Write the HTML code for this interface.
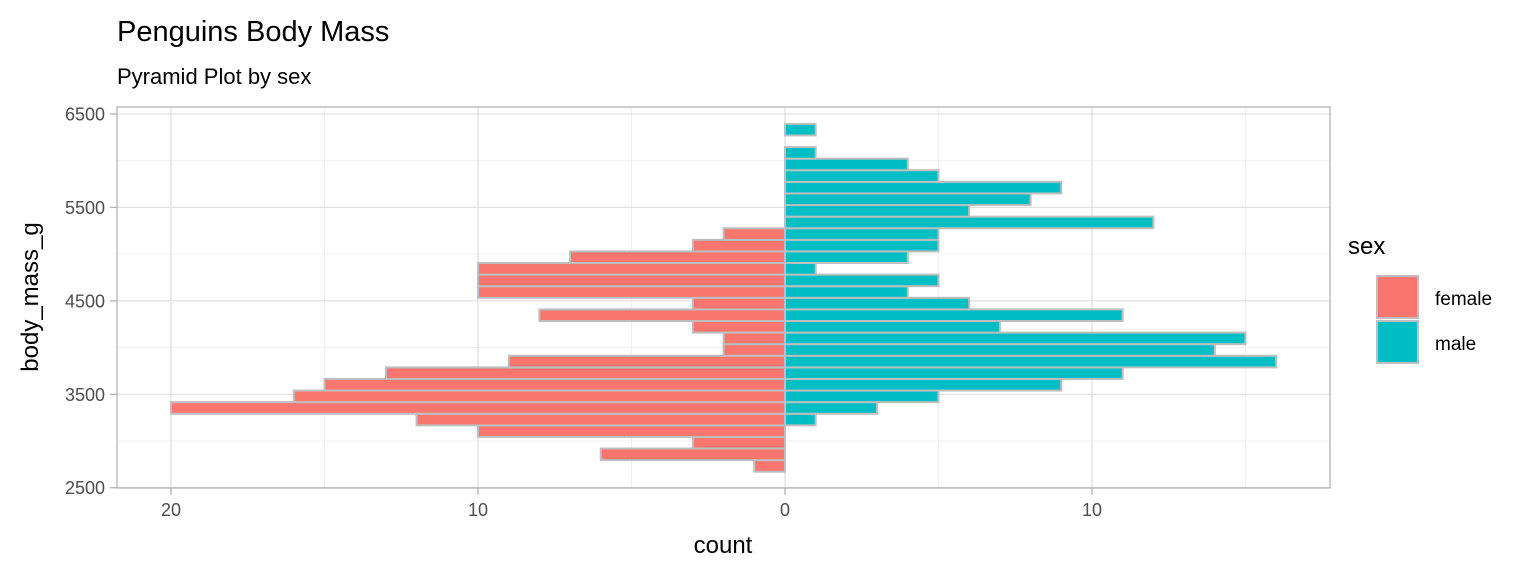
<!DOCTYPE html>
<html><head><meta charset="utf-8"><style>
body{margin:0;background:#fff}
svg{display:block;font-family:"Liberation Sans",sans-serif}
</style></head><body>
<svg id="c" width="1536" height="576">
<text x="117" y="41" font-size="29" fill="#000">Penguins Body Mass</text>
<text x="117" y="84" font-size="22" fill="#000">Pyramid Plot by sex</text>
<rect x="117" y="107" width="1213" height="381" fill="#fff"/>
<g id="grid"></g>
<g id="bars"></g>
<rect x="117" y="107" width="1213" height="381" fill="none" stroke="#b3b3b3" stroke-width="1.3"/>
<g id="ticks"></g>
<text x="723" y="553" font-size="24" text-anchor="middle">count</text>
<text transform="translate(38,297) rotate(-90)" font-size="24" text-anchor="middle">body_mass_g</text>
<g>
<text x="1348" y="254" font-size="24">sex</text>
<rect x="1377" y="276" width="41" height="42" fill="#f8766d" stroke="#bebebe" stroke-width="2"/>
<text x="1435" y="305" font-size="19">female</text>
<rect x="1377" y="321" width="41" height="42" fill="#00bfc4" stroke="#bebebe" stroke-width="2"/>
<text x="1435" y="350" font-size="19">male</text>
</g>
</svg>
<script>
const binStart = 2671;
const binWidth = 124.1;
const female = [1,6,3,10,12,20,16,15,13,9,2,2,3,8,3,10,10,10,7,3,2];
const male = [0,0,0,0,1,3,5,9,11,16,14,15,7,11,6,4,5,1,4,5,5,12,6,8,9,5,4,1,0,1];
const yTicks = [2500,3500,4500,5500,6500];
const yMinor = [3000,4000,5000,6000];
const xTicks = [-20,-10,0,10];
const xTickLabels = ["20","10","0","10"];
const xMinor = [-15,-5,5,15];

const NS="http://www.w3.org/2000/svg";
const y = v => 487.7 - (v-2500)*0.09343;
const x = v => 785 + v*30.7;
function mk(tag, attrs, parent){const e=document.createElementNS(NS,tag);for(const k in attrs)e.setAttribute(k,attrs[k]);document.getElementById(parent).appendChild(e);return e;}
yMinor.forEach(v=>{const e=mk('line',{x1:117,x2:1330,y1:y(v),y2:y(v),stroke:'#f0f0f0','stroke-width':1},'grid');

});
xMinor.forEach(v=>{const e=mk('line',{x1:x(v),x2:x(v),y1:107,y2:488,stroke:'#f0f0f0','stroke-width':1},'grid');

});
yTicks.forEach(v=>{const e=mk('line',{x1:117,x2:1330,y1:y(v),y2:y(v),stroke:'#e0e0e0','stroke-width':1.3},'grid');


const t=mk('line',{x1:110,x2:117,y1:y(v),y2:y(v),stroke:'#b3b3b3','stroke-width':1.3},'ticks');


const l=mk('text',{x:105,y:y(v)+6.5,'font-size':18,fill:'#4d4d4d','text-anchor':'end'},'ticks');
l.textContent=v;

});
xTicks.forEach((v,i)=>{const e=mk('line',{x1:x(v),x2:x(v),y1:107,y2:488,stroke:'#e0e0e0','stroke-width':1.3},'grid');


const t=mk('line',{x1:x(v),x2:x(v),y1:488,y2:495,stroke:'#b3b3b3','stroke-width':1.3},'ticks');


const l=mk('text',{x:x(v),y:516,'font-size':18,fill:'#4d4d4d','text-anchor':'middle'},'ticks');
l.textContent=xTickLabels[i];

});
function drawBar(k,val,sign,col,name){
 const y0=y(binStart+k*binWidth), y1=y(binStart+(k+1)*binWidth);
 const xa=x(0), xb=x(sign*val);
 const r=mk('rect',{x:Math.min(xa,xb),y:y1,width:Math.abs(xb-xa),height:y0-y1,fill:col,stroke:'#bebebe','stroke-width':2},'bars');
 
 
}
female.forEach((v,k)=>{drawBar(k,v,-1,'#f8766d','bar-female');});
male.forEach((v,k)=>{if(v>0)drawBar(k,v,1,'#00bfc4','bar-male');});
</script>
</body></html>
